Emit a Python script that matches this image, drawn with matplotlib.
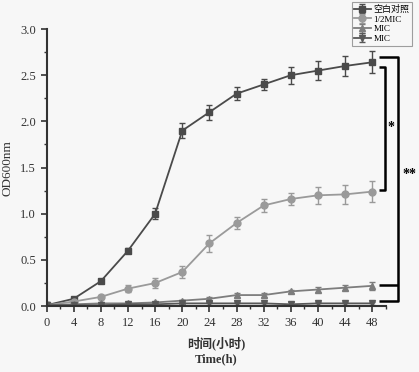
import matplotlib
matplotlib.use("Agg")
import matplotlib.pyplot as plt
import numpy as np

plt.rcParams['font.family'] = ['Liberation Serif', 'Noto Sans CJK SC', 'DejaVu Sans']

hours = [0, 4, 8, 12, 16, 20, 24, 28, 32, 36, 40, 44, 48]
ctrl = [0.01, 0.08, 0.27, 0.60, 1.00, 1.90, 2.10, 2.30, 2.40, 2.50, 2.55, 2.60, 2.64]
ctrl_err = [0.01, 0.01, 0.02, 0.03, 0.06, 0.08, 0.08, 0.07, 0.06, 0.09, 0.10, 0.11, 0.12]
half_mic = [0.01, 0.05, 0.10, 0.19, 0.25, 0.37, 0.68, 0.90, 1.09, 1.16, 1.20, 1.21, 1.24]
half_err = [0.01, 0.01, 0.02, 0.04, 0.05, 0.07, 0.09, 0.07, 0.07, 0.06, 0.09, 0.10, 0.11]
mic = [0.01, 0.02, 0.03, 0.03, 0.04, 0.06, 0.08, 0.12, 0.12, 0.16, 0.18, 0.20, 0.22]
mic_err = [0.005, 0.01, 0.01, 0.01, 0.01, 0.01, 0.02, 0.02, 0.02, 0.02, 0.03, 0.03, 0.04]
mic2 = [0.01, 0.01, 0.01, 0.02, 0.02, 0.03, 0.03, 0.03, 0.03, 0.02, 0.03, 0.03, 0.03]
mic2_err = [0.005, 0.01, 0.01, 0.01, 0.01, 0.01, 0.02, 0.02, 0.02, 0.02, 0.02, 0.02, 0.02]
labels = ['空白对照', '1/2MIC', 'MIC', 'MIC']

fig = plt.figure(figsize=(4.19, 3.72), dpi=100, facecolor='#f7f7f7')
ax = fig.add_axes([0.111, 0.177, 0.81, 0.745])
ax.set_facecolor('#f7f7f7')

series = [
    (ctrl, ctrl_err, 's', '#4a4a4a'),
    (half_mic, half_err, 'o', '#9a9a9a'),
    (mic, mic_err, '^', '#7d7d7d'),
    (mic2, mic2_err, 'v', '#585858'),
]
for (vals, err, mk, col), lab in zip(series, labels):
    ax.errorbar(hours, vals, yerr=err, marker=mk, color=col, ms=5, lw=1.3,
                elinewidth=1.0, capsize=2.5, capthick=1.0, label=lab, ecolor=col)

ax.set_xlim(0, 50)
ax.set_ylim(0, 3.0)
ax.set_xticks(range(0, 49, 4))
ax.set_xticks(range(2, 51, 4), minor=True)
ax.set_yticks(np.arange(0, 3.01, 0.5))
ax.set_yticks(np.arange(0.25, 3.0, 0.5), minor=True)
ax.yaxis.set_major_formatter(matplotlib.ticker.FormatStrFormatter('%.1f'))
for s in ['top', 'right']:
    ax.spines[s].set_visible(False)
for s in ['left', 'bottom']:
    ax.spines[s].set_linewidth(1.5)
    ax.spines[s].set_color('#333333')
ax.tick_params(axis='both', which='major', length=4, width=1.2, labelsize=9,
               colors='#333333', direction='out')
ax.tick_params(axis='both', which='minor', length=2.5, width=1.0, colors='#333333',
               direction='out')

ax.set_ylabel('OD600nm', fontsize=9.5, color='#333333', labelpad=5)
ax.set_xlabel('时间(小时)\nTime(h)', fontsize=9, color='#333333', linespacing=1.3,
              labelpad=6, fontweight='bold')

leg = ax.legend(loc='upper right', bbox_to_anchor=(1.077, 1.097), fontsize=6.5,
                frameon=True, fancybox=False, edgecolor='#888888', handlelength=1.8,
                handletextpad=0.3, borderpad=0.3, labelspacing=0.15, borderaxespad=0)
leg.get_frame().set_facecolor('#f7f7f7')
leg.get_frame().set_linewidth(0.8)

# significance brackets
bk = dict(color='black', lw=1.8, clip_on=False, solid_capstyle='butt')
x0, x1, x2 = 49.0, 49.9, 51.8
ax.plot([x0, x1, x1, x0], [ctrl[-1] - 0.05, ctrl[-1] - 0.05, half_mic[-1] + 0.02, half_mic[-1] + 0.02], **bk)
ax.plot([x0, x2, x2, x0], [ctrl[-1] + 0.06, ctrl[-1] + 0.06, mic2[-1] + 0.03, mic2[-1] + 0.03], **bk)
ax.plot([x0, x2], [mic[-1] + 0.01, mic[-1] + 0.01], **bk)
ax.text(50.7, 1.93, '*', fontsize=10, fontweight='bold', ha='center', va='center', clip_on=False)
ax.text(53.5, 1.43, '**', fontsize=10, fontweight='bold', ha='center', va='center', clip_on=False)

fig.savefig('out.png', dpi=100, facecolor=fig.get_facecolor())
